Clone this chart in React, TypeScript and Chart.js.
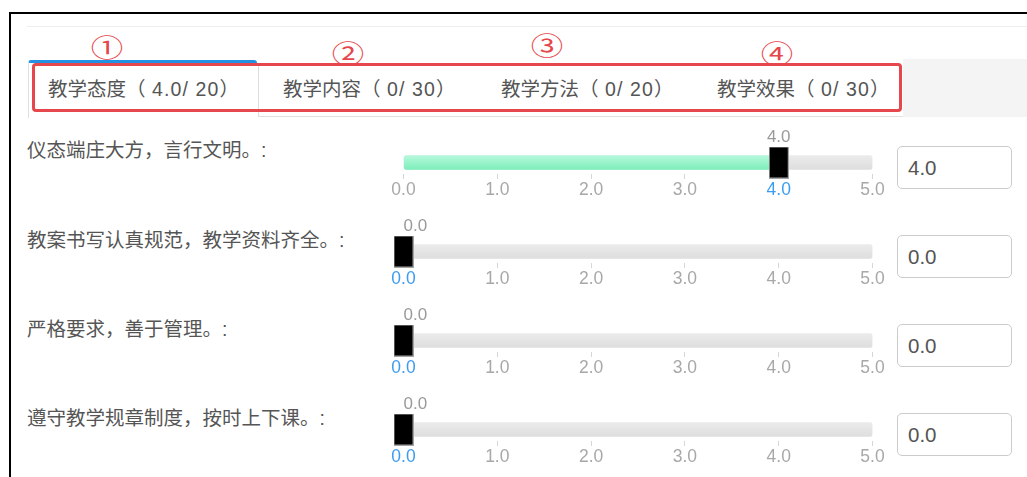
import React, { useEffect, useRef } from "react";
import { Chart, registerables } from "chart.js";

Chart.register(...registerables);

// ---- data ----
const TAB_NAMES = ["教学态度", "教学内容", "教学方法", "教学效果"];
const TAB_SCORES = ["4.0", "0", "0", "0"];
const TAB_MAX = [20, 30, 20, 30];
const TAB_MARKERS = ["①", "②", "③", "④"];

const CRITERIA = [
  "仪态端庄大方，言行文明。:",
  "教案书写认真规范，教学资料齐全。:",
  "严格要求，善于管理。:",
  "遵守教学规章制度，按时上下课。:",
];
const SCORES = [4.0, 0.0, 0.0, 0.0];
const SCALE_MIN = 0;
const SCALE_MAX = 5;
const SCALE_STEP = 1;

// ---- layout / style ----
const LATIN = '"Liberation Sans", Arial, "Noto Sans CJK SC", sans-serif';
const TEXT = "#555";
const TAB_LEFT = [48, 283, 501, 717];
const MARKER_POS = [
  [107, 46],
  [348, 52],
  [547, 44],
  [777, 52],
];
const ROW_Y0 = 160.3;
const ROW_STEP = 89.2;
const CANVAS_LEFT = 380;
const CANVAS_W = 516;
const CANVAS_H = 78;
const AREA_CENTER = 37.8;

function Slider({ value, label, top }: { value: number; label: string; top: number }) {
  const ref = useRef<HTMLCanvasElement | null>(null);
  useEffect(() => {
    const canvas = ref.current;
    if (!canvas) return;
    const handle = document.createElement("canvas");
    handle.width = 20;
    handle.height = 32;
    const hc = handle.getContext("2d")!;
    hc.fillStyle = "#a3a3a3";
    hc.fillRect(0, 0, 20, 32);
    hc.fillStyle = "#000";
    hc.fillRect(1, 1, 18, 30);

    const valueLabel = {
      id: "valueLabel",
      afterDatasetsDraw(chart: any) {
        const { ctx, chartArea, scales } = chart;
        const px = scales.x.getPixelForValue(value);
        const py = scales.y.getPixelForValue(0);
        const text = value.toFixed(1);
        ctx.save();
        ctx.font = `17px ${LATIN}`;
        const w = ctx.measureText(text).width;
        const cx = Math.min(Math.max(px, chartArea.left + w / 2), chartArea.right - w / 2);
        ctx.fillStyle = "#9a9a9a";
        ctx.textAlign = "center";
        ctx.textBaseline = "middle";
        ctx.fillText(text, cx, py - 25);
        ctx.restore();
      },
    };

    const chart = new Chart(canvas, {
      type: "bar",
      data: {
        labels: [label],
        datasets: [
          {
            type: "scatter",
            data: [{ x: value, y: label }],
            pointStyle: handle,
            pointRadius: 10,
            clip: false,
            order: 0,
          } as any,
          {
            data: [value],
            backgroundColor: (c: any) => {
              const area = c.chart.chartArea;
              if (!area) return "#96f2c6";
              const cy = (area.top + area.bottom) / 2;
              const g = c.chart.ctx.createLinearGradient(0, cy - 7, 0, cy + 7);
              g.addColorStop(0, "#b6f8dc");
              g.addColorStop(1, "#7defba");
              return g;
            },
            barThickness: 14,
            grouped: false,
            borderRadius: 3,
            borderSkipped: false,
            order: 1,
          } as any,
          {
            data: [SCALE_MAX],
            backgroundColor: (c: any) => {
              const area = c.chart.chartArea;
              if (!area) return "#e3e3e3";
              const cy = (area.top + area.bottom) / 2;
              const g = c.chart.ctx.createLinearGradient(0, cy - 7, 0, cy + 7);
              g.addColorStop(0, "#ebebeb");
              g.addColorStop(1, "#dedede");
              return g;
            },
            barThickness: 14,
            grouped: false,
            borderRadius: 3,
            borderSkipped: false,
            order: 2,
          } as any,
        ],
      },
      options: {
        animation: false,
        responsive: false,
        maintainAspectRatio: false,
        devicePixelRatio: 1,
        indexAxis: "y",
        events: [],
        layout: { padding: { left: 23.5, right: 23.5, top: 28, bottom: 4 } },
        plugins: { legend: { display: false }, tooltip: { enabled: false } },
        scales: {
          x: {
            type: "linear",
            min: SCALE_MIN,
            max: SCALE_MAX,
            ticks: {
              stepSize: SCALE_STEP,
              autoSkip: false,
              maxRotation: 0,
              padding: 1,
              font: { size: 17.5, family: LATIN },
              color: (c: any) => (c.tick && c.tick.value === value ? "#3d9cf2" : "#a8a8a8"),
              callback: (v: any) => Number(v).toFixed(1),
            },
            grid: { drawOnChartArea: false, drawTicks: true, tickLength: 5, color: "#d6d6d6" },
            border: { display: false },
          },
          y: { type: "category", display: false },
        },
      } as any,
      plugins: [valueLabel],
    });
    return () => chart.destroy();
  }, [value, label]);

  return (
    <canvas
      ref={ref}
      width={CANVAS_W}
      height={CANVAS_H}
      style={{
        position: "absolute",
        left: CANVAS_LEFT,
        top: top - AREA_CENTER,
        width: CANVAS_W,
        height: CANVAS_H,
      }}
    />
  );
}

export default function App() {
  return (
    <div
      style={{
        position: "fixed",
        left: 0,
        top: 0,
        width: 1027,
        height: 477,
        background: "#fff",
        overflow: "hidden",
        fontFamily: LATIN,
      }}
    >
      {/* outer frame */}
      <div style={{ position: "absolute", left: 9, top: 12, width: 1020, height: 2, background: "#000" }} />
      <div style={{ position: "absolute", left: 9, top: 12, width: 2, height: 470, background: "#000" }} />
      {/* light top line */}
      <div style={{ position: "absolute", left: 27, top: 26, width: 1000, height: 1, background: "#eeeeee" }} />
      {/* grey filler at right of tabs */}
      <div style={{ position: "absolute", left: 903, top: 59, width: 124, height: 58, background: "#f4f4f4" }} />
      {/* tab bar bottom border */}
      <div style={{ position: "absolute", left: 258, top: 116, width: 645, height: 1, background: "#e0e0e0" }} />
      {/* active tab */}
      <div
        style={{
          position: "absolute",
          left: 28,
          top: 60,
          width: 229,
          height: 58,
          boxSizing: "border-box",
          borderTop: "3px solid #2391e3",
          borderLeft: "1px solid #e0e0e0",
          borderRadius: "3px 3px 0 0",
          background: "#fff",
        }}
      />
      <div style={{ position: "absolute", left: 258, top: 63, width: 1, height: 54, background: "#dddddd" }} />
      {/* tab texts */}
      {TAB_NAMES.map((n, i) => (
        <div
          key={n}
          style={{
            position: "absolute",
            left: TAB_LEFT[i],
            top: 89 - 15,
            height: 30,
            lineHeight: "30px",
            fontSize: 19.5,
            color: TEXT,
            whiteSpace: "nowrap",
          }}
        >
          {n}
          {"（"}
          <span style={{ letterSpacing: 1.1 }}>{` ${TAB_SCORES[i]}/ ${TAB_MAX[i]}`}</span>
          {"）"}
        </div>
      ))}
      {/* red annotation box */}
      <div
        style={{
          position: "absolute",
          left: 32,
          top: 63,
          width: 870,
          height: 49,
          boxSizing: "border-box",
          border: "3px solid #e5474c",
          borderRadius: 4,
        }}
      />
      {TAB_MARKERS.map((m, i) => (
        <div
          key={m}
          style={{
            position: "absolute",
            left: MARKER_POS[i][0] - 20,
            top: MARKER_POS[i][1] - 15,
            width: 40,
            height: 30,
            lineHeight: "30px",
            textAlign: "center",
            fontSize: 25,
            color: "#e5474c",
            fontFamily: '"Noto Sans CJK SC", sans-serif',
            transform: "scaleX(1.3)",
          }}
        >
          {m}
        </div>
      ))}
      {/* rows */}
      {CRITERIA.map((c, i) => {
        const y = ROW_Y0 + ROW_STEP * i;
        return (
          <React.Fragment key={c}>
            <div
              style={{
                position: "absolute",
                left: 27,
                top: y - 10 - 15,
                height: 30,
                lineHeight: "30px",
                fontSize: 19.5,
                color: TEXT,
                whiteSpace: "nowrap",
              }}
            >
              {c}
            </div>
            <Slider value={SCORES[i]} label={c} top={y} />
            <div
              style={{
                position: "absolute",
                left: 897,
                top: y - 14.5,
                width: 115,
                height: 43,
                boxSizing: "border-box",
                border: "1px solid #cccccc",
                borderRadius: 5,
                paddingLeft: 10,
                lineHeight: "41px",
                fontSize: 20.5,
                color: TEXT,
                background: "#fff",
              }}
            >
              {SCORES[i].toFixed(1)}
            </div>
          </React.Fragment>
        );
      })}
    </div>
  );
}
